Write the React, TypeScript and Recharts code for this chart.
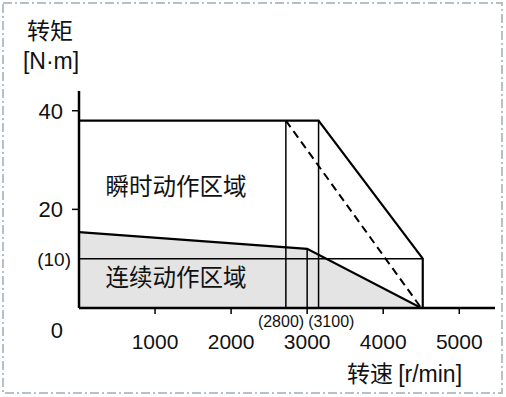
import {
  Area,
  ComposedChart,
  Line,
  ReferenceLine,
  XAxis,
  YAxis,
} from "recharts";

// rated (continuous) torque curve
const continuousSpeed = [0, 3000, 4500];
const continuousTorque = [15.4, 12, 0];

// peak (instantaneous) torque boundary
const peakSpeed = [0, 3150, 4520, 4520];
const peakTorque = [38, 38, 10, 0];

// dashed boundary
const dashedSpeed = [2720, 4500];
const dashedTorque = [38, 0];

const xTicks = [1000, 2000, 3000, 4000, 5000];
const yTicks = [0, 10, 20, 40];
const yTickLabels: Record<number, string> = { 0: "0", 10: "(10)", 20: "20", 40: "40" };

const continuousData = continuousSpeed.map((x, i) => ({ x, y: continuousTorque[i] }));
const peakData = peakSpeed.map((x, i) => ({ x, y: peakTorque[i] }));
const dashedData = dashedSpeed.map((x, i) => ({ x, y: dashedTorque[i] }));

const FONT = "'Liberation Sans', Arial, 'Noto Sans CJK SC', sans-serif";
const CJK = "'Noto Sans CJK SC', 'Liberation Sans', sans-serif";

function YTick(props: any) {
  const { x, y, payload } = props;
  const v = payload.value as number;
  return (
    <g>
      {(v === 20 || v === 40) && (
        <line x1={x + 9} y1={y} x2={x + 16} y2={y} stroke="#000" strokeWidth={1.5} />
      )}
      <text
        x={v === 10 ? x + 8 : x}
        y={v === 0 ? y + 22 : y}
        dy="0.36em"
        textAnchor="end"
        fontSize={v === 10 ? 19 : 22}
        fontFamily={FONT}
        fill="#111"
      >
        {yTickLabels[v]}
      </text>
    </g>
  );
}

function SpeedLabels(props: any) {
  const { viewBox } = props;
  const x = viewBox.x;
  const y = viewBox.y + viewBox.height;
  return (
    <g fontFamily={FONT} fontSize={16} fill="#111">
      <text x={x - 3} y={y + 19} textAnchor="end">(2800)</text>
      <text x={x + 1} y={y + 19} textAnchor="start">(3100)</text>
    </g>
  );
}

export default function App() {
  return (
    <div
      style={{
        position: "fixed",
        left: 0,
        top: 0,
        width: 506,
        height: 397,
        background: "#fff",
      }}
    >
      <ComposedChart
        width={506}
        height={397}
        margin={{ top: 91, right: 11, left: 0, bottom: 0 }}
      >
        <XAxis
          type="number"
          dataKey="x"
          domain={[0, 5470]}
          ticks={xTicks}
          allowDataOverflow
          height={89}
          tickSize={6}
          tickMargin={20}
          axisLine={{ stroke: "#000", strokeWidth: 2.5 }}
          tickLine={{ stroke: "#000", strokeWidth: 1.5 }}
          tick={{ fill: "#111", fontSize: 21, fontFamily: FONT }}
        />
        <YAxis
          type="number"
          dataKey="y"
          domain={[0, 44]}
          ticks={yTicks}
          allowDataOverflow
          width={79}
          tickSize={7}
          tickMargin={9}
          tickLine={false}
          axisLine={{ stroke: "#000", strokeWidth: 2.5 }}
          tick={<YTick />}
        />
        <Area
          data={continuousData}
          dataKey="y"
          type="linear"
          stroke="#000"
          strokeWidth={2.2}
          fill="#e4e4e4"
          fillOpacity={1}
          isAnimationActive={false}
        />
        <ReferenceLine
          segment={[{ x: 0, y: 10 }, { x: 4520, y: 10 }]}
          stroke="#000"
          strokeWidth={1.5}
        />
        <ReferenceLine
          segment={[{ x: 2720, y: 0 }, { x: 2720, y: 38 }]}
          stroke="#000"
          strokeWidth={1.5}
        />
        <ReferenceLine
          segment={[{ x: 3150, y: 0 }, { x: 3150, y: 38 }]}
          stroke="#000"
          strokeWidth={1.5}
        />
        <ReferenceLine
          segment={[{ x: 3000, y: 0 }, { x: 3000, y: 12 }]}
          stroke="#000"
          strokeWidth={1.5}
          label={<SpeedLabels />}
        />
        <Line
          data={dashedData}
          dataKey="y"
          type="linear"
          stroke="#000"
          strokeWidth={2}
          strokeDasharray="8 5"
          dot={false}
          isAnimationActive={false}
        />
        <Line
          data={peakData}
          dataKey="y"
          type="linear"
          stroke="#000"
          strokeWidth={2.2}
          dot={false}
          isAnimationActive={false}
        />
      </ComposedChart>
      <svg
        width={506}
        height={397}
        style={{ position: "absolute", left: 0, top: 0, pointerEvents: "none" }}
      >
        <rect
          x={3}
          y={3}
          width={499}
          height={390}
          fill="none"
          stroke="#b7c0ca"
          strokeWidth={2}
          strokeDasharray="9 3 2 3"
        />
        <text x={50} y={39} textAnchor="middle" fontSize={23} fontFamily={CJK} fill="#111">
          转矩
        </text>
        <text x={51} y={69} textAnchor="middle" fontSize={23} fontFamily={FONT} fill="#111">
          [N·m]
        </text>
        <text x={176} y={195} textAnchor="middle" fontSize={23.5} fontFamily={CJK} fill="#111">
          瞬时动作区域
        </text>
        <text x={176} y={286} textAnchor="middle" fontSize={23.5} fontFamily={CJK} fill="#111">
          连续动作区域
        </text>
        <text x={347} y={382} fontSize={23} fontFamily={CJK} fill="#111">
          转速 <tspan fontFamily={FONT}>[r/min]</tspan>
        </text>
      </svg>
    </div>
  );
}
